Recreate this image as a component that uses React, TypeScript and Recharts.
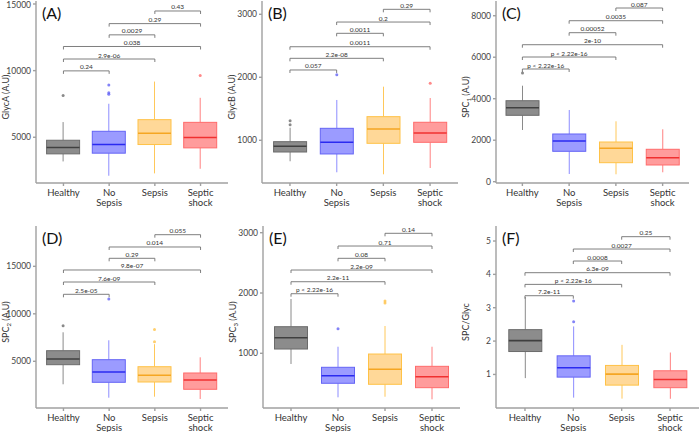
import React from 'react';
import { ComposedChart, Bar, XAxis, YAxis, ReferenceLine } from 'recharts';

const groups = ['Healthy', 'No Sepsis', 'Sepsis', 'Septic shock'];
// bracket pairs, lowest bracket first
const pairs = [[0, 1], [0, 2], [0, 3], [1, 2], [1, 3], [2, 3]];

const fills = ['#8c8c8c', '#9b9bff', '#ffd898', '#ff9c9c'];
const borders = ['#6b6b6b', '#6464f5', '#ffc247', '#ff6b6b'];
const medians = ['#404040', '#2a2af0', '#f5a623', '#f03030'];
const whiskers = ['#8a8a8a', '#8c8cff', '#ffc85a', '#ff8080'];

// (A) GlycA
const glycaQ1 = [3754, 3806, 4455, 4204];
const glycaMed = [4230, 4455, 5298, 4978];
const glycaQ3 = [4776, 5448, 6320, 6119];
const glycaLo = [3187, 2113, 2290, 2635];
const glycaHi = [6140, 7514, 9178, 7960];
const glycaOut = [[8130], [8930, 8335, 8232], [], [9625]];
const glycaP = ['0.24', '2.9e-06', '0.038', '0.0029', '0.29', '0.43'];
const glycaPY = [9980, 10871, 11811, 12684, 13527, 14474];

// (B) GlycB
const glycbQ1 = [814, 783, 952, 968];
const glycbMed = [905, 968, 1179, 1116];
const glycbQ3 = [978, 1190, 1375, 1286];
const glycbLo = [667, 492, 460, 560];
const glycbHi = [1200, 1640, 1851, 1671];
const glycbOut = [[1310, 1245], [2041], [], [1905]];
const glycbP = ['0.057', '2.2e-08', '0.0011', '0.0011', '0.2', '0.29'];
const glycbPY = [2116, 2301, 2485, 2698, 2877, 3079];

// (C) SPC1
const spc1Q1 = [3200, 1465, 916, 805];
const spc1Med = [3567, 1962, 1610, 1157];
const spc1Q3 = [3904, 2299, 1913, 1562];
const spc1Lo = [2492, 371, 357, 453];
const spc1Hi = [4627, 3456, 2911, 2526];
const spc1Out = [[5240], [], [], []];
const spc1P = ['p < 2.22e-16', 'p < 2.22e-16', '2e-10', '0.00052', '0.0035', '0.087'];
const spc1PY = [5432, 6010, 6603, 7182, 7760, 8372];

// (D) SPC2
const spc2Q1 = [4642, 2789, 2820, 2052];
const spc2Med = [5242, 3873, 3526, 3031];
const spc2Q3 = [6116, 5168, 4431, 3768];
const spc2Lo = [2578, 1167, 1272, 1030];
const spc2Hi = [8054, 7211, 6800, 5421];
const spc2Out = [[8749], [11560], [7050, 8350], []];
const spc2P = ['2.5e-05', '7.6e-09', '9.8e-07', '0.29', '0.014', '0.055'];
const spc2PY = [12055, 13350, 14614, 15846, 17036, 18331];

// (E) SPC3
const spc3Q1 = [1071, 503, 486, 430];
const spc3Med = [1259, 629, 735, 612];
const spc3Q3 = [1441, 768, 988, 784];
const spc3Lo = [823, 270, 280, 237];
const spc3Hi = [1900, 1109, 1453, 1109];
const spc3Out = [[], [1408], [1867, 1834], []];
const spc3P = ['p < 2.22e-16', '2.2e-11', '2.2e-09', '0.08', '0.71', '0.14'];
const spc3PY = [1988, 2187, 2381, 2575, 2779, 2990];

// (F) SPC/Glyc
const ratioQ1 = [1.687, 0.92, 0.68, 0.603];
const ratioMed = [2.015, 1.2, 1.01, 0.85];
const ratioQ3 = [2.343, 1.558, 1.27, 1.11];
const ratioLo = [0.89, 0.305, 0.275, 0.27];
const ratioHi = [3.32, 2.44, 1.887, 1.657];
const ratioOut = [[], [3.2, 2.58], [], []];
const ratioP = ['7.2e-11', 'p < 2.22e-16', '6.3e-09', '0.0008', '0.0027', '0.25'];
const ratioPY = [3.36, 3.7, 4.05, 4.4, 4.76, 5.13];

const makeRows = (q1, med, q3, lo, hi, out) =>
    groups.map((name, i) => ({
        name, idx: i, box: [q1[i], q3[i]], q1: q1[i], med: med[i], q3: q3[i], lo: lo[i], hi: hi[i], out: out[i],
    }));

const panels = [
    { tag: '(A)', label: ['GlycA (A.U)'], left: 0, top: 0, plotW: 192, pad: 4.6, domain: [1568, 15224], ticks: [5000, 10000, 15000],
        rows: makeRows(glycaQ1, glycaMed, glycaQ3, glycaLo, glycaHi, glycaOut), p: glycaP, py: glycaPY },
    { tag: '(B)', label: ['GlycB (A.U)'], left: 226, top: 0, plotW: 196, pad: 4.6, domain: [322, 3211], ticks: [1000, 2000, 3000],
        rows: makeRows(glycbQ1, glycbMed, glycbQ3, glycbLo, glycbHi, glycbOut), p: glycbP, py: glycbPY },
    { tag: '(C)', label: ['SPC', '1', ' (A.U)'], left: 460, top: 0, plotW: 193, pad: 3, domain: [-63, 8710], ticks: [0, 2000, 4000, 6000, 8000],
        rows: makeRows(spc1Q1, spc1Med, spc1Q3, spc1Lo, spc1Hi, spc1Out), p: spc1P, py: spc1PY },
    { tag: '(D)', label: ['SPC', '2', ' (A.U)'], left: 0, top: 225, plotW: 192, pad: 4.6, domain: [82, 19247], ticks: [5000, 10000, 15000],
        rows: makeRows(spc2Q1, spc2Med, spc2Q3, spc2Lo, spc2Hi, spc2Out), p: spc2P, py: spc2PY },
    { tag: '(E)', label: ['SPC', '3', ' (A.U)'], left: 227, top: 225, plotW: 197, pad: 4.5, domain: [93, 3111], ticks: [1000, 2000, 3000],
        rows: makeRows(spc3Q1, spc3Med, spc3Q3, spc3Lo, spc3Hi, spc3Out), p: spc3P, py: spc3PY },
    { tag: '(F)', label: ['SPC/Glyc'], left: 460, top: 225, plotW: 203, pad: 4.8, domain: [-0.006, 5.45], ticks: [1, 2, 3, 4, 5],
        rows: makeRows(ratioQ1, ratioMed, ratioQ3, ratioLo, ratioHi, ratioOut), p: ratioP, py: ratioPY },
];

const AXIS_W = 36;
const CHART_H = 216;

const BoxShape = (props: any) => {
    const { x, y, width, height, payload } = props;
    const { q1, q3, med, lo, hi, out, idx } = payload;
    // pixels per data unit, taken from the bar the scale drew for [q1, q3]
    const ppu = height / (q3 - q1);
    const yOf = (v: number) => y + (q3 - v) * ppu;
    const cx = x + width / 2;
    return (
        <g>
            <line x1={cx} x2={cx} y1={yOf(hi)} y2={yOf(q3)} stroke={whiskers[idx]} strokeWidth={1} />
            <line x1={cx} x2={cx} y1={yOf(q1)} y2={yOf(lo)} stroke={whiskers[idx]} strokeWidth={1} />
            <rect x={x} y={y} width={width} height={height} fill={fills[idx]} stroke={borders[idx]} strokeWidth={1} />
            <line x1={x} x2={x + width} y1={yOf(med)} y2={yOf(med)} stroke={medians[idx]} strokeWidth={1.6} />
            {out.map((v: number, i: number) => (
                <circle key={i} cx={cx} cy={yOf(v)} r={1.5} fill={borders[idx]} fillOpacity={0.8} />
            ))}
        </g>
    );
};

const GroupTick = (props: any) => {
    const { x, y, payload } = props;
    const lines = String(payload.value).split(' ');
    return (
        <text x={x} y={y} textAnchor='middle' fontSize={9.5} fill='#333'>
            {lines.map((l, i) => (
                <tspan key={i} x={x} dy={i === 0 ? 8 : 10}>{l}</tspan>
            ))}
        </text>
    );
};

const SideLabel = (props: any) => {
    const { viewBox, parts } = props;
    const lx = viewBox.x + 9;
    const ly = viewBox.y + viewBox.height / 2 + 5;
    return (
        <text x={lx} y={ly} transform={`rotate(-90 ${lx} ${ly})`} textAnchor='middle' fontSize={9} fill='#333'>
            {parts[0]}
            {parts.length > 1 && <tspan fontSize={6} dy={2}>{parts[1]}</tspan>}
            {parts.length > 1 && <tspan dy={-2}>{parts[2]}</tspan>}
        </text>
    );
};

const Panel = ({ cfg }: any) => {
    const span = cfg.domain[1] - cfg.domain[0];
    const drop = (3 * span) / 182;
    return (
        <div style={{ position: 'absolute', left: cfg.left, top: cfg.top }}>
            <ComposedChart
                width={AXIS_W + cfg.plotW}
                height={CHART_H}
                data={cfg.rows}
                margin={{ top: 1, right: 0, bottom: 0, left: 0 }}
            >
                <XAxis
                    dataKey='name'
                    interval={0}
                    height={33}
                    padding={{ left: cfg.pad, right: cfg.pad }}
                    stroke='#a0a0a0'
                    strokeWidth={1.4}
                    tickSize={3}
                    tick={<GroupTick />}
                />
                <YAxis
                    width={AXIS_W}
                    type='number'
                    domain={cfg.domain}
                    ticks={cfg.ticks}
                    allowDataOverflow
                    stroke='#a0a0a0'
                    strokeWidth={1.4}
                    tickSize={3}
                    tick={{ fontSize: 8.5, fill: '#444' }}
                    label={<SideLabel parts={cfg.label} />}
                />
                <Bar dataKey='box' barSize={33} isAnimationActive={false} shape={<BoxShape />} />
                {pairs.map(([a, b], i) => (
                    <ReferenceLine
                        key={`h${i}`}
                        segment={[{ x: groups[a], y: cfg.py[i] }, { x: groups[b], y: cfg.py[i] }]}
                        stroke='#707070'
                        strokeWidth={0.9}
                        label={{ value: cfg.p[i], position: 'top', offset: 1.5, fontSize: 6.5, fill: '#333' }}
                    />
                ))}
                {pairs.map(([a, b], i) => (
                    <ReferenceLine
                        key={`l${i}`}
                        segment={[{ x: groups[a], y: cfg.py[i] }, { x: groups[a], y: cfg.py[i] - drop }]}
                        stroke='#707070'
                        strokeWidth={0.9}
                    />
                ))}
                {pairs.map(([a, b], i) => (
                    <ReferenceLine
                        key={`r${i}`}
                        segment={[{ x: groups[b], y: cfg.py[i] }, { x: groups[b], y: cfg.py[i] - drop }]}
                        stroke='#707070'
                        strokeWidth={0.9}
                    />
                ))}
            </ComposedChart>
            <div style={{ position: 'absolute', left: AXIS_W + 6, top: 5, fontSize: 16, lineHeight: '16px', color: '#111' }}>
                {cfg.tag}
            </div>
        </div>
    );
};

export default function App() {
    return (
        <div style={{ position: 'absolute', left: 0, top: 0, width: 700, height: 432, background: '#fff', fontFamily: 'Lato, "Liberation Sans", sans-serif' }}>
            {panels.map((cfg, i) => <Panel key={i} cfg={cfg} />)}
        </div>
    );
}
